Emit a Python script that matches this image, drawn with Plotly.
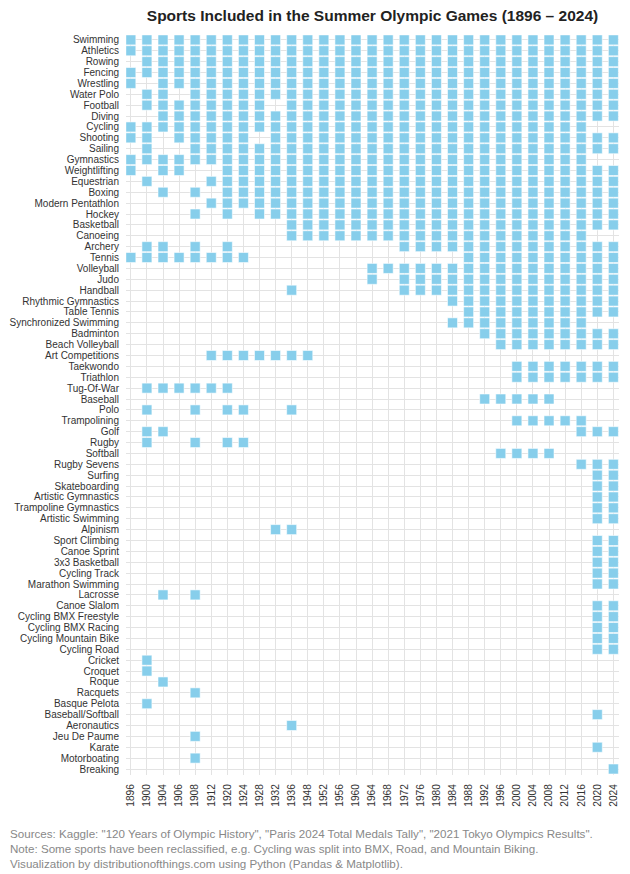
import plotly.graph_objects as go

years = ["1896", "1900", "1904", "1906", "1908", "1912", "1920", "1924", "1928", "1932",
         "1936", "1948", "1952", "1956", "1960", "1964", "1968", "1972", "1976", "1980",
         "1984", "1988", "1992", "1996", "2000", "2004", "2008", "2012", "2016", "2020", "2024"]

sports = ["Swimming", "Athletics", "Rowing", "Fencing", "Wrestling", "Water Polo", "Football",
          "Diving", "Cycling", "Shooting", "Sailing", "Gymnastics", "Weightlifting", "Equestrian",
          "Boxing", "Modern Pentathlon", "Hockey", "Basketball", "Canoeing", "Archery", "Tennis",
          "Volleyball", "Judo", "Handball", "Rhythmic Gymnastics", "Table Tennis",
          "Synchronized Swimming", "Badminton", "Beach Volleyball", "Art Competitions",
          "Taekwondo", "Triathlon", "Tug-Of-War", "Baseball", "Polo", "Trampolining", "Golf",
          "Rugby", "Softball", "Rugby Sevens", "Surfing", "Skateboarding", "Artistic Gymnastics",
          "Trampoline Gymnastics", "Artistic Swimming", "Alpinism", "Sport Climbing",
          "Canoe Sprint", "3x3 Basketball", "Cycling Track", "Marathon Swimming", "Lacrosse",
          "Canoe Slalom", "Cycling BMX Freestyle", "Cycling BMX Racing", "Cycling Mountain Bike",
          "Cycling Road", "Cricket", "Croquet", "Roque", "Racquets", "Basque Pelota",
          "Baseball/Softball", "Aeronautics", "Jeu De Paume", "Karate", "Motorboating", "Breaking"]

# one flag per year column (1 = held), grouped by five for readability
presence = [
    "11111 11111 11111 11111 11111 11111 1",  # Swimming
    "11111 11111 11111 11111 11111 11111 1",  # Athletics
    "01111 11111 11111 11111 11111 11111 1",  # Rowing
    "11111 11111 11111 11111 11111 11111 1",  # Fencing
    "10111 11111 11111 11111 11111 11111 1",  # Wrestling
    "01101 11111 11111 11111 11111 11111 1",  # Water Polo
    "01111 11110 11111 11111 11111 11111 1",  # Football
    "00111 11111 11111 11111 11111 11111 1",  # Diving
    "11111 11111 11111 11111 11111 11110 0",  # Cycling
    "11011 11101 11111 11111 11111 11111 1",  # Shooting
    "01001 11111 11111 11111 11111 11111 1",  # Sailing
    "11111 11111 11111 11111 11111 11110 0",  # Gymnastics
    "10110 01111 11111 11111 11111 11111 1",  # Weightlifting
    "01000 11111 11111 11111 11111 11111 1",  # Equestrian
    "00101 01111 11111 11111 11111 11111 1",  # Boxing
    "00000 11111 11111 11111 11111 11111 1",  # Modern Pentathlon
    "00001 01011 11111 11111 11111 11111 1",  # Hockey
    "00000 00000 11111 11111 11111 11111 1",  # Basketball
    "00000 00000 11111 11111 11111 11110 0",  # Canoeing
    "01101 01000 00000 00111 11111 11111 1",  # Archery
    "11111 11100 00000 00000 01111 11111 1",  # Tennis
    "00000 00000 00000 11111 11111 11111 1",  # Volleyball
    "00000 00000 00000 10111 11111 11111 1",  # Judo
    "00000 00000 10000 00111 11111 11111 1",  # Handball
    "00000 00000 00000 00000 11111 11111 1",  # Rhythmic Gymnastics
    "00000 00000 00000 00000 01111 11111 1",  # Table Tennis
    "00000 00000 00000 00000 11111 11110 0",  # Synchronized Swimming
    "00000 00000 00000 00000 00111 11111 1",  # Badminton
    "00000 00000 00000 00000 00011 11111 1",  # Beach Volleyball
    "00000 11111 11000 00000 00000 00000 0",  # Art Competitions
    "00000 00000 00000 00000 00001 11111 1",  # Taekwondo
    "00000 00000 00000 00000 00001 11111 1",  # Triathlon
    "01111 11000 00000 00000 00000 00000 0",  # Tug-Of-War
    "00000 00000 00000 00000 00111 11000 0",  # Baseball
    "01001 01100 10000 00000 00000 00000 0",  # Polo
    "00000 00000 00000 00000 00001 11110 0",  # Trampolining
    "01100 00000 00000 00000 00000 00011 1",  # Golf
    "01001 01100 00000 00000 00000 00000 0",  # Rugby
    "00000 00000 00000 00000 00011 11000 0",  # Softball
    "00000 00000 00000 00000 00000 00011 1",  # Rugby Sevens
    "00000 00000 00000 00000 00000 00001 1",  # Surfing
    "00000 00000 00000 00000 00000 00001 1",  # Skateboarding
    "00000 00000 00000 00000 00000 00001 1",  # Artistic Gymnastics
    "00000 00000 00000 00000 00000 00001 1",  # Trampoline Gymnastics
    "00000 00000 00000 00000 00000 00001 1",  # Artistic Swimming
    "00000 00001 10000 00000 00000 00000 0",  # Alpinism
    "00000 00000 00000 00000 00000 00001 1",  # Sport Climbing
    "00000 00000 00000 00000 00000 00001 1",  # Canoe Sprint
    "00000 00000 00000 00000 00000 00001 1",  # 3x3 Basketball
    "00000 00000 00000 00000 00000 00001 1",  # Cycling Track
    "00000 00000 00000 00000 00000 00001 1",  # Marathon Swimming
    "00101 00000 00000 00000 00000 00000 0",  # Lacrosse
    "00000 00000 00000 00000 00000 00001 1",  # Canoe Slalom
    "00000 00000 00000 00000 00000 00001 1",  # Cycling BMX Freestyle
    "00000 00000 00000 00000 00000 00001 1",  # Cycling BMX Racing
    "00000 00000 00000 00000 00000 00001 1",  # Cycling Mountain Bike
    "00000 00000 00000 00000 00000 00001 1",  # Cycling Road
    "01000 00000 00000 00000 00000 00000 0",  # Cricket
    "01000 00000 00000 00000 00000 00000 0",  # Croquet
    "00100 00000 00000 00000 00000 00000 0",  # Roque
    "00001 00000 00000 00000 00000 00000 0",  # Racquets
    "01000 00000 00000 00000 00000 00000 0",  # Basque Pelota
    "00000 00000 00000 00000 00000 00001 0",  # Baseball/Softball
    "00000 00000 10000 00000 00000 00000 0",  # Aeronautics
    "00001 00000 00000 00000 00000 00000 0",  # Jeu De Paume
    "00000 00000 00000 00000 00000 00001 0",  # Karate
    "00001 00000 00000 00000 00000 00000 0",  # Motorboating
    "00000 00000 00000 00000 00000 00000 1",  # Breaking
]

title = "Sports Included in the Summer Olympic Games (1896 – 2024)"
footer = ('Sources: Kaggle: "120 Years of Olympic History", "Paris 2024 Total Medals Tally", '
          '"2021 Tokyo Olympics Results".<br>'
          'Note: Some sports have been reclassified, e.g. Cycling was split into BMX, Road, and Mountain Biking.<br>'
          'Visualization by distributionofthings.com using Python (Pandas & Matplotlib).')

xs, ys = [], []
for si, flags in enumerate(presence):
    f = flags.replace(" ", "")
    for yi, c in enumerate(f):
        if c == "1":
            xs.append(yi)
            ys.append(si)

fig = go.Figure(go.Scatter(
    x=xs, y=ys, mode="markers",
    marker=dict(symbol="square", size=10, color="#87CEEB",
                line=dict(width=0.8, color="rgba(255,255,255,0.7)")),
    hoverinfo="skip",
))

W, H = 630, 874
ml, mr, mt, mb = 126, 11, 35, 99
pw = W - ml - mr
ph = H - mt - mb

fig.update_layout(
    width=W, height=H,
    margin=dict(l=ml, r=mr, t=mt, b=mb, autoexpand=False),
    plot_bgcolor="white", paper_bgcolor="white",
    showlegend=False,
    font=dict(family="Liberation Sans, Arial, sans-serif", color="#333333"),
    title=dict(text="<b>" + title + "</b>", x=(ml + pw / 2) / W, xanchor="center",
               y=1 - 16 / H, yanchor="middle",
               font=dict(size=15.5, color="#222222")),
    xaxis=dict(
        range=[-0.3, 30.35],
        tickmode="array", tickvals=list(range(len(years))), ticktext=years,
        tickangle=-90, tickfont=dict(size=10.2, color="#333333"),
        ticklabelstandoff=6,
        showgrid=True, gridcolor="#e3e3e3", gridwidth=1,
        zeroline=False, showline=False, ticks="", fixedrange=True, automargin=False,
    ),
    yaxis=dict(
        range=[len(sports) - 0.45, -0.45],
        tickmode="array", tickvals=list(range(len(sports))), ticktext=sports,
        tickfont=dict(size=10, color="#333333"),
        ticklabelstandoff=6,
        showgrid=True, gridcolor="#e3e3e3", gridwidth=1,
        zeroline=False, showline=False, ticks="", fixedrange=True, automargin=False,
    ),
    annotations=[dict(
        text=footer, xref="paper", yref="paper",
        x=(8 - ml) / pw, y=-(825 - (H - mb)) / ph,
        xanchor="left", yanchor="top", align="left", showarrow=False,
        font=dict(size=11.6, color="#888888"),
    )],
)

fig.write_html("out.html", config={"displayModeBar": False, "staticPlot": True},
               post_script="document.body.style.margin='0';document.body.style.overflow='hidden';")
